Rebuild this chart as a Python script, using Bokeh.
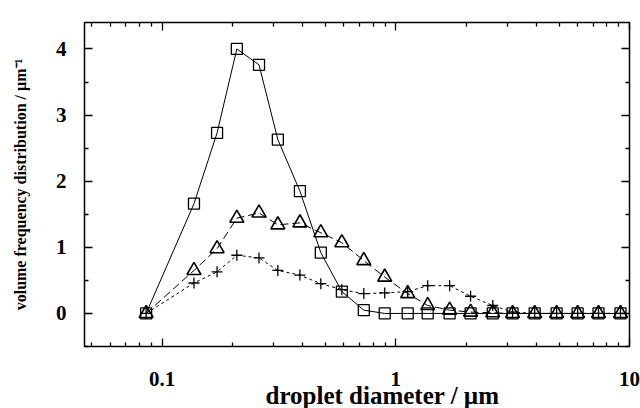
from bokeh.plotting import figure
from bokeh.models import Range1d, FixedTicker, LinearAxis, LogAxis, Title
from bokeh.embed import file_html
from bokeh.resources import INLINE

# droplet diameter (µm) bins
diameter = [0.0855, 0.137, 0.172, 0.209, 0.260, 0.313, 0.389, 0.478, 0.588, 0.730, 0.897,
            1.125, 1.37, 1.70, 2.09, 2.60, 3.16, 3.93, 4.88, 6.0, 7.37, 9.15]
# series
squares = [0.0, 1.66, 2.73, 4.0, 3.76, 2.63, 1.85, 0.92, 0.33, 0.05, 0.0,
           0.0, 0.0, 0.0, 0.0, 0.0, 0.0, 0.0, 0.0, 0.0, 0.0, 0.0]
triangles = [0.0, 0.65, 0.98, 1.44, 1.52, 1.34, 1.37, 1.22, 1.07, 0.80, 0.55,
             0.30, 0.12, 0.05, 0.02, 0.01, 0.0, 0.0, 0.0, 0.0, 0.0, 0.0]
pluses = [0.0, 0.46, 0.63, 0.88, 0.84, 0.65, 0.58, 0.45, 0.36, 0.30, 0.31,
          0.33, 0.42, 0.42, 0.26, 0.12, 0.02, 0.0, 0.0, 0.0, 0.0, 0.0]

x_major = [0.1, 1, 10]
x_minor = [0.05, 0.06, 0.07, 0.08, 0.09, 0.2, 0.3, 0.4, 0.5, 0.6, 0.7, 0.8, 0.9,
           2, 3, 4, 5, 6, 7, 8, 9]
y_major = [0, 1, 2, 3, 4]
y_minor = [-0.5, 0.5, 1.5, 2.5, 3.5]
x_title = "droplet diameter / µm"
y_title = "volume frequency distribution / µm⁻¹"

FONT = "Liberation Serif"

p = figure(width=640, height=408, x_axis_type="log", output_backend="svg",
           toolbar_location=None, x_range=Range1d(0.0466, 10), y_range=Range1d(-0.5, 4.4),
           min_border_left=84, min_border_right=11, min_border_top=22, min_border_bottom=62)
p.grid.visible = False
p.outline_line_color = "black"
p.outline_line_width = 1.5
p.background_fill_color = "white"
p.border_fill_color = "white"

p.line(diameter, squares, line_color="black", line_width=1)
p.line(diameter, triangles, line_color="black", line_width=1, line_dash="8 4")
p.line(diameter, pluses, line_color="black", line_width=1, line_dash="3 3")

p.scatter(diameter, squares, marker="square", size=11, line_color="black",
          line_width=1.3, fill_alpha=0)
p.scatter(diameter, triangles, marker="triangle", size=14, line_color="black",
          line_width=1.6, fill_alpha=0)
p.scatter(diameter, pluses, marker="cross", size=11, line_color="black",
          line_width=1.3)


def style(ax, show_labels, label_size="21px", title_size="21px"):
    ax.major_tick_in = 8
    ax.major_tick_out = 0
    ax.minor_tick_in = 4
    ax.minor_tick_out = 0
    ax.axis_line_color = None
    ax.major_tick_line_color = "black"
    ax.minor_tick_line_color = "black"
    ax.major_tick_line_width = 1.3
    ax.minor_tick_line_width = 1.3
    ax.major_label_text_font = FONT
    ax.major_label_text_font_style = "bold"
    ax.major_label_text_font_size = label_size
    ax.major_label_text_color = "black"
    ax.axis_label_text_font = FONT
    ax.axis_label_text_font_style = "bold"
    ax.axis_label_text_font_size = title_size
    ax.axis_label_text_color = "black"
    if not show_labels:
        ax.major_label_text_font_size = "0px"
        ax.major_label_text_alpha = 0


xa = p.xaxis[0]
xa.ticker = FixedTicker(ticks=x_major, minor_ticks=x_minor)
xa.major_label_overrides = {0.1: "0.1", 1: "1", 10: "10"}
style(xa, True, "21px", "21px")
xa.major_label_standoff = 25

ya = p.yaxis[0]
ya.ticker = FixedTicker(ticks=y_major, minor_ticks=y_minor)
ya.axis_label = y_title
style(ya, True, "21px", "16px")
ya.major_label_standoff = 18
ya.axis_label_standoff = 24

top = LogAxis(ticker=FixedTicker(ticks=x_major, minor_ticks=x_minor))
style(top, False)
p.add_layout(top, "above")
right = LinearAxis(ticker=FixedTicker(ticks=y_major, minor_ticks=y_minor))
style(right, False)
p.add_layout(right, "right")

# x-axis title as a bottom title, left-aligned with an offset so it sits near x = 1
p.add_layout(Title(text=x_title, align="left", offset=181, standoff=-18,
                   text_font=FONT, text_font_style="bold", text_font_size="25px",
                   text_color="black"), "below")

open("out.html", "w").write(file_html(p, INLINE))
